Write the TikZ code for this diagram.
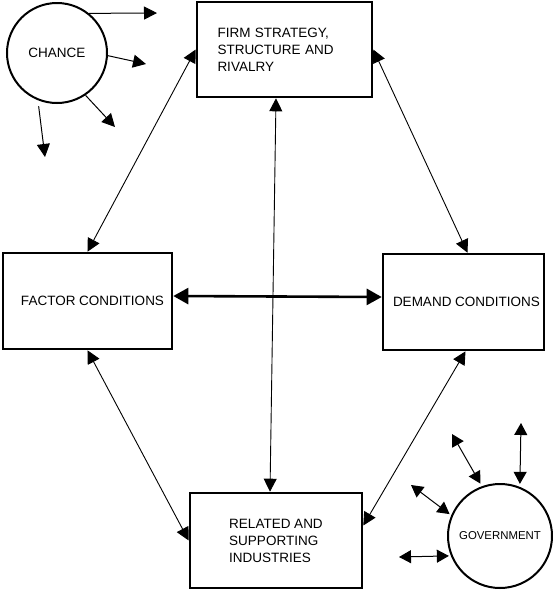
\documentclass[tikz,border=0pt]{standalone}
\usepackage{fontspec}
\setmainfont{Liberation Sans}
\usetikzlibrary{arrows.meta,calc}
\begin{document}
\begin{tikzpicture}[x=1pt,y=-1pt,
  box/.style={draw,line width=2.6pt,rectangle,inner sep=0pt,font=\fontsize{13.5}{17}\selectfont},
  circ/.style={draw,circle,line width=2pt,minimum size=100pt,inner sep=0pt},
  link/.style={line width=0.9pt,{Triangle[length=13pt,width=13pt]}-{Triangle[length=13pt,width=13pt]}},
  thick link/.style={line width=2.6pt,{Triangle[length=15pt,width=16pt]}-{Triangle[length=15pt,width=16pt]}},
  out arrow/.style={line width=1pt,-{Triangle[length=13pt,width=13pt]}},
  gov arrow/.style={line width=1pt,{Triangle[length=12pt,width=13pt]}-{Triangle[length=12pt,width=13pt]}}]
\useasboundingbox (0,0) rectangle (552,592);

% boxes
\node[box,minimum width=175pt,minimum height=95pt,text width=134pt,inner xsep=20.5pt,align=left] (firm) at (284.5,49.5)
  {FIRM STRATEGY,\\STRUCTURE AND\\RIVALRY};
\node[box,minimum width=169pt,minimum height=96pt] (factor) at (87.5,301)
  {\hspace*{10pt}FACTOR CONDITIONS};
\node[box,minimum width=161pt,minimum height=96pt] (demand) at (463.5,302)
  {\hspace*{6pt}DEMAND CONDITIONS};
\node[box,minimum width=172pt,minimum height=95pt,align=left] (related) at (276,540.5)
  {RELATED AND\\SUPPORTING\\INDUSTRIES};

% circles
\node[circ,font=\fontsize{13.5}{15}\selectfont] (chance) at (57,53) {CHANCE};
\node[circ,minimum size=104pt,font=\fontsize{11.4}{13}\selectfont] (gov) at (500,536) {GOVERNMENT};

% main connectors
\draw[link] (firm.west) -- (factor.north);
\draw[link] (firm.east) -- ([xshift=4pt]demand.north);
\draw[link] (factor.south) -- (related.west);
\draw[link] ([xshift=2pt]demand.south) -- ([yshift=15pt]related.east);
\draw[link] ([xshift=-8.5pt]firm.south) -- ([xshift=-6pt]related.north);
\draw[thick link] ([yshift=5pt]factor.east) -- ([yshift=5pt]demand.west);

% chance arrows
\coordinate (c1) at (157,13);
\coordinate (c2) at (146,64);
\coordinate (c3) at (115,127);
\coordinate (c4) at (45,157);
\draw[out arrow] (chance.51) -- (c1);
\draw[out arrow] (chance.-3) -- (c2);
\draw[out arrow] (chance.-56) -- (c3);
\draw[out arrow,shorten <=6pt] (chance.-112) -- (c4);

% government arrows
\coordinate (g1) at (521,423);
\coordinate (g2) at (452,434);
\coordinate (g3) at (411,485);
\coordinate (g4) at (399,557);
\draw[gov arrow,shorten >=3pt] (g1) -- (gov.68);
\draw[gov arrow,shorten >=3pt] (g2) -- (gov.110);
\draw[gov arrow,shorten >=2pt] (g3) -- (gov.157);
\draw[gov arrow,shorten >=2pt] (g4) -- (gov.202);
\end{tikzpicture}
\end{document}
